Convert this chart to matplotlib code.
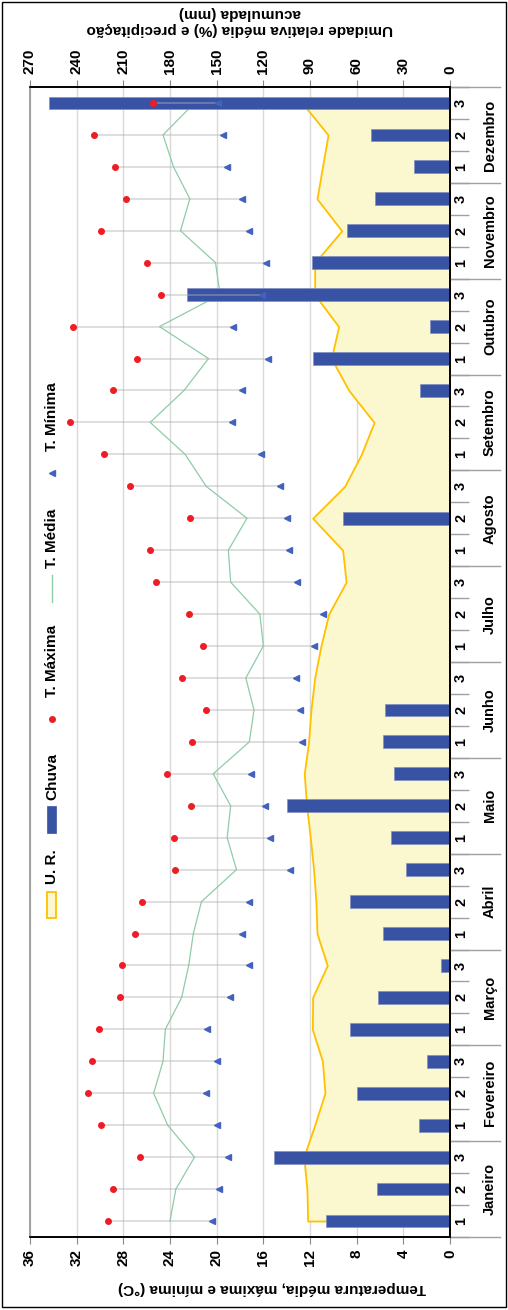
import numpy as np
import matplotlib
matplotlib.use('agg')
import matplotlib.pyplot as plt
import matplotlib.transforms as mtransforms
from matplotlib.lines import Line2D
from matplotlib.patches import Rectangle

plt.rcParams['font.family'] = ['Liberation Sans', 'DejaVu Sans']
plt.rcParams['font.weight'] = 'bold'

meses = ['Janeiro', 'Fevereiro', 'Março', 'Abril', 'Maio', 'Junho',
         'Julho', 'Agosto', 'Setembro', 'Outubro', 'Novembro', 'Dezembro']
decendios = ['1', '2', '3'] * 12

t_max = [29.3, 28.9, 26.6, 29.9, 31.0, 30.7, 30.1, 28.3, 28.1, 27.0, 26.4, 23.6,
         23.7, 22.2, 24.3, 22.1, 20.9, 23.0, 21.2, 22.4, 25.2, 25.7, 22.3, 27.4,
         29.7, 32.6, 28.9, 26.8, 32.3, 24.8, 26.0, 29.9, 27.8, 28.7, 30.5, 25.5]
t_min = [20.4, 19.8, 19.0, 20.0, 20.9, 20.0, 20.8, 18.9, 17.2, 17.8, 17.2, 13.7,
         15.4, 15.9, 17.1, 12.7, 12.9, 13.2, 11.7, 10.9, 13.1, 13.8, 14.0, 14.6,
         16.2, 18.7, 17.8, 15.6, 18.6, 16.1, 15.8, 17.2, 17.8, 19.1, 19.5, 19.9]
t_med = [24.0, 23.5, 21.9, 24.2, 25.4, 24.6, 24.4, 23.0, 22.4, 22.0, 21.3, 18.3,
         19.1, 18.8, 20.3, 17.2, 16.8, 17.5, 16.0, 16.3, 18.8, 19.0, 17.4, 20.9,
         22.7, 25.7, 22.8, 20.7, 24.9, 19.7, 20.1, 23.1, 22.3, 23.7, 24.6, 21.9]
chuva = [80, 47, 113, 20, 60, 15, 64, 46, 6, 43, 64, 28,
         38, 105, 36, 43, 42, 0, 0, 0, 0, 0, 69, 0,
         0, 0, 19, 88, 13, 169, 89, 66, 48, 23, 51, 258]
ur = [91.5, 92, 94, 87, 80.4, 82, 88.5, 88.3, 78.9, 85.5, 86.2, 87.7,
      89.8, 92.2, 93.7, 90.9, 89.4, 87, 83, 78, 66.8, 69, 88.3, 67.7,
      57, 48.8, 65, 76.3, 71.6, 87, 87, 69.6, 85.5, 82, 78.4, 95]

W, H = 508, 1310
def fx(x):
    return x / W
def fy(y):
    return 1 - y / H

fig = plt.figure(figsize=(W / 100, H / 100), dpi=100)
ax2 = fig.add_axes([fx(30), fy(1237), 420 / W, 1150 / H])   # umidade / chuva (top axis)
ax = fig.add_axes(ax2.get_position(), sharey=ax2)            # temperatura (bottom axis)
ax.set_zorder(ax2.get_zorder() + 1)
ax.patch.set_visible(False)

pos = np.arange(36)

# back layer: grid, humidity area, mean temperature line, rain bars
ax2.set_xlim(270, 0)
ax2.set_xticks(np.arange(0, 271, 30))
ax2.grid(axis='x', color='#d9d9d9', lw=1)
ax2.set_axisbelow(True)
ax2.fill_betweenx(pos, 0, ur, facecolor='#fbf8d0', edgecolor='#ffc000', lw=1.3, zorder=1)
ax2.plot(t_med, pos, color='#8fcca8', lw=0.9, zorder=2, transform=ax.transData)
ax2.barh(pos, chuva, height=0.4, color='#3953a4', edgecolor='#8090c4', lw=0.5, zorder=3)

# front layer: high-low lines and markers
ax.set_xlim(36, 0)
ax.set_ylim(-0.5, 35.5)
ax.hlines(pos, t_min, t_max, color='#b0b0b0', alpha=0.45, lw=1.3, zorder=2)
ax.plot(t_max, pos, 'o', color='#ee1c25', ms=4, mec='#ee1c25', zorder=4)
ax.plot(t_min, pos, '<', color='#4262bd', ms=4.5, mec='#4262bd', zorder=4)

# spines
for a in (ax, ax2):
    a.spines['left'].set_color('#a0a0a0')
    a.spines['right'].set_color('black')
    a.spines['top'].set_color('black')
    a.spines['bottom'].set_color('black')
    for s in a.spines.values():
        s.set_linewidth(1.2)

ax.set_xticks(np.arange(0, 37, 4))
ax.tick_params(axis='x', bottom=True, top=False, labelbottom=True, labeltop=False,
               direction='out', length=5, color='#888888', labelsize=11, pad=4, labelrotation=90)
ax2.tick_params(axis='x', bottom=False, top=True, labelbottom=False, labeltop=True,
                direction='out', length=5, color='#888888', labelsize=11, pad=4, labelrotation=90)
ax2.xaxis.set_ticks_position('top')
ax2.xaxis.set_label_position('top')
for lab in ax.get_xticklabels() + ax2.get_xticklabels():
    lab.set_fontweight('bold')

# category axis on the right
ax.yaxis.tick_right()
ax.set_yticks([])
ax.set_yticks(np.arange(-0.5, 36, 1), minor=True)
ax.tick_params(axis='y', which='minor', right=True, left=False, direction='out',
               length=14, color='#a0a0a0', width=1)
ax2.tick_params(axis='y', which='both', left=False, right=False, labelleft=False)

tr = mtransforms.blended_transform_factory(fig.transFigure, ax.transData)
for i in pos:
    ax.text(fx(461), i, decendios[i], transform=tr, rotation=90, ha='center', va='center',
            fontsize=10.5, fontweight='bold')
for k, m in enumerate(meses):
    ax.text(fx(490), 3 * k + 1, m, transform=tr, rotation=90, ha='center', va='center',
            fontsize=10.5, fontweight='bold')
for k in range(13):
    ax.add_line(Line2D([fx(450), fx(500)], [3 * k - 0.5, 3 * k - 0.5], transform=tr,
                       color='#a0a0a0', lw=1, clip_on=False))

# axis titles
fig.text(fx(272), fy(1288), 'Temperatura média, máxima e mínima (°C)', rotation=180,
         ha='center', va='center', fontsize=11, fontweight='bold')
fig.text(fx(240), fy(21), 'Umidade relativa média (%) e precipitação\nacumulada (mm)',
         rotation=180, ha='center', va='center', fontsize=11, fontweight='bold',
         multialignment='center', linespacing=1.1)

# legend (drawn by hand, rotated)
fig.add_artist(Rectangle((fx(47), fy(918)), 9 / W, 26 / H, transform=fig.transFigure,
                         facecolor='#fbf8d0', edgecolor='#ffc000', lw=1.3))
fig.add_artist(Rectangle((fx(47), fy(833)), 9 / W, 27 / H, transform=fig.transFigure,
                         facecolor='#3953a4', edgecolor='#3953a4', lw=0.5))
fig.add_artist(Line2D([fx(52)], [fy(719)], marker='o', color='#ee1c25', ms=4,
                      transform=fig.transFigure))
fig.add_artist(Line2D([fx(52), fx(52)], [fy(602), fy(575)], color='#8fcca8', lw=1,
                      transform=fig.transFigure))
fig.add_artist(Line2D([fx(52)], [fy(473)], marker='<', color='#4262bd', ms=4.5,
                      transform=fig.transFigure))
for txt, yy in [('U. R.', 867), ('Chuva', 776), ('T. Máxima', 661),
                ('T. Média', 538), ('T. Mínima', 417)]:
    fig.text(fx(52), fy(yy), txt, rotation=90, ha='center', va='center',
             fontsize=11, fontweight='bold')

# outer frame
fig.add_artist(Rectangle((fx(2), fy(1307)), 504 / W, 1305 / H, transform=fig.transFigure,
                         fill=False, edgecolor='black', lw=1))

fig.savefig('out.png', dpi=100)
